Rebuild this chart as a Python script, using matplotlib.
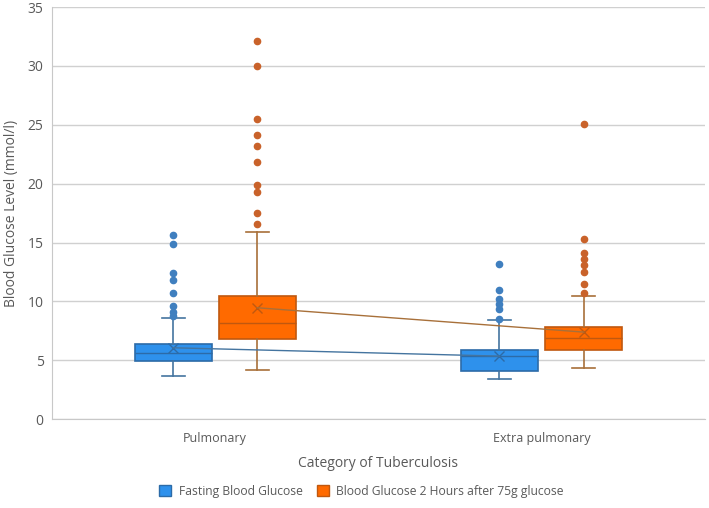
import matplotlib.pyplot as plt
from matplotlib.patches import Patch

# Category / series
categories = ["Pulmonary", "Extra pulmonary"]
series = ["Fasting Blood Glucose", "Blood Glucose 2 Hours after 75g glucose"]

# box stats: [pulmonary, extra pulmonary]
fasting_q1 = [4.93, 4.11]
fasting_med = [5.58, 5.40]
fasting_q3 = [6.37, 5.86]
fasting_mean = [6.06, 5.35]
fasting_whislo = [3.65, 3.37]
fasting_whishi = [8.55, 8.38]
fasting_fliers = [
    [15.6, 14.84, 12.43, 11.84, 10.68, 9.63, 9.09, 8.75],
    [13.2, 10.99, 10.22, 9.77, 9.35, 8.5],
]

ogtt_q1 = [6.82, 5.86]
ogtt_med = [8.18, 6.88]
ogtt_q3 = [10.5, 7.82]
ogtt_mean = [9.46, 7.39]
ogtt_whislo = [4.16, 4.33]
ogtt_whishi = [15.89, 10.5]
ogtt_fliers = [
    [32.1, 30.0, 25.5, 24.16, 23.2, 21.86, 19.88, 19.26, 17.53, 16.57],
    [25.1, 15.32, 14.07, 13.57, 13.06, 12.52, 11.47, 10.7],
]

yticks = [0, 5, 10, 15, 20, 25, 30, 35]

plt.rcParams['font.family'] = ['Open Sans', 'DejaVu Sans']
txt = '#595959'

fig = plt.figure(figsize=(7.09, 5.08), dpi=100)
ax = fig.add_axes([0.0733, 0.175, 0.9207, 0.811])

centers = [0.5, 1.5]
offset = 0.129
width = 0.236


def make_stats(q1, med, q3, mean, lo, hi, fliers):
    out = []
    for i in range(len(q1)):
        out.append(dict(q1=q1[i], med=med[i], q3=q3[i], mean=mean[i],
                        whislo=lo[i], whishi=hi[i], fliers=fliers[i]))
    return out


groups = [
    (make_stats(fasting_q1, fasting_med, fasting_q3, fasting_mean,
                fasting_whislo, fasting_whishi, fasting_fliers),
     -offset, '#2E91EC', '#2C6BA8', '#44749F', '#3F7FBF', fasting_mean),
    (make_stats(ogtt_q1, ogtt_med, ogtt_q3, ogtt_mean,
                ogtt_whislo, ogtt_whishi, ogtt_fliers),
     offset, '#FF6A00', '#C0580F', '#A8703A', '#C9622A', ogtt_mean),
]

for stats, off, fill, edge, whisk, flier, means in groups:
    pos = [c + off for c in centers]
    ax.bxp(stats, positions=pos, widths=width, patch_artist=True,
           showmeans=True, meanline=False,
           boxprops=dict(facecolor=fill, edgecolor=edge, linewidth=1.2),
           medianprops=dict(color=edge, linewidth=1.0),
           whiskerprops=dict(color=whisk, linewidth=1.2),
           capprops=dict(color=whisk, linewidth=1.2),
           capwidths=width * 0.3,
           flierprops=dict(marker='o', markersize=4.5, markerfacecolor=flier,
                           markeredgecolor=flier),
           meanprops=dict(marker='x', markersize=7, markeredgecolor=edge,
                          markeredgewidth=1.0),
           zorder=3)
    ax.plot(pos, means, color=whisk, linewidth=1.0, zorder=4)

ax.set_xlim(0, 2)
ax.set_ylim(0, 35)
ax.set_yticks(yticks)
ax.set_xticks(centers)
ax.set_xticklabels(categories)
ax.yaxis.grid(True, color='#D0D0D0', linewidth=1.0, zorder=0)
ax.set_axisbelow(True)
for s in ['top', 'right']:
    ax.spines[s].set_visible(False)
for s in ['left', 'bottom']:
    ax.spines[s].set_color('#C8C8C8')
ax.tick_params(axis='both', length=0, colors=txt, labelsize=9)
ax.tick_params(axis='y', labelsize=10, pad=6)
ax.tick_params(axis='x', pad=9)
ax.set_xlabel("Category of Tuberculosis", color=txt, fontsize=10, labelpad=8)
ax.set_ylabel("Blood Glucose Level (mmol/l)", color=txt, fontsize=10, labelpad=6)

handles = [Patch(facecolor='#2E91EC', edgecolor='#2C6BA8'),
           Patch(facecolor='#FF6A00', edgecolor='#C0580F')]
fig.legend(handles, series, loc='center', bbox_to_anchor=(0.51, 0.033), ncol=2,
           frameon=False, fontsize=8.7, labelcolor=txt, handlelength=1.0,
           handleheight=1.0, columnspacing=1.2, handletextpad=0.6)

fig.savefig("out.png", dpi=100)
